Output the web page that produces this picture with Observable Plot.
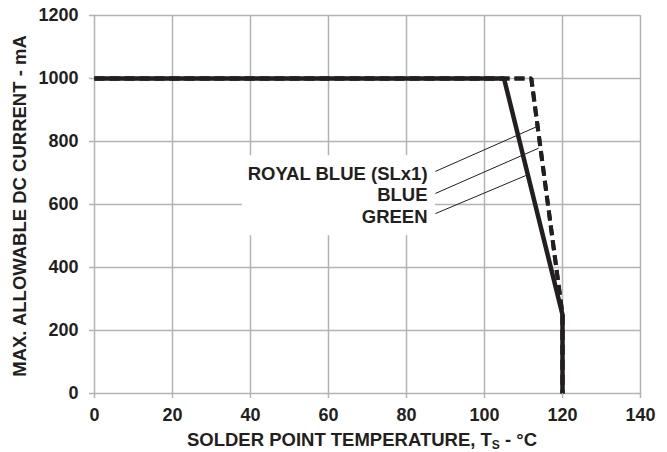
<!DOCTYPE html>
<html>
<head>
<meta charset="utf-8">
<script src="https://cdn.jsdelivr.net/npm/d3@7"></script>
<script src="https://cdn.jsdelivr.net/npm/@observablehq/plot@0.6"></script>
<style>
  html, body { margin: 0; padding: 0; background: #fff; }
</style>
</head>
<body>
<div id="chart"></div>
<script>
// Derating curves: max. allowable DC current vs. solder point temperature
const royalBlueTemp = [0, 112, 120, 120];
const royalBlueCurrent = [1000, 1000, 250, 0];
const blueTemp = [0, 112, 120, 120];
const blueCurrent = [1000, 1000, 250, 0];
const greenTemp = [0, 105, 120, 120];
const greenCurrent = [1000, 1000, 250, 0];

const xTicks = [0, 20, 40, 60, 80, 100, 120, 140];
const yTicks = [0, 200, 400, 600, 800, 1000, 1200];

// Callout labels, in data units (°C, mA)
const seriesNames = ["ROYAL BLUE (SLx1)", "BLUE", "GREEN"];
const labelTemp = [85.4, 85.4, 85.4];
const labelCurrent = [698, 629, 559];
const leaderFromTemp = [87.4, 87.4, 87.4];
const leaderFromCurrent = [705, 635, 571];
const leaderToTemp = [113.2, 113.9, 110.6];
const leaderToCurrent = [846, 779, 692];
// white backdrop behind the callout text
const backdrop = [{t1: 37.9, t2: 87.4, c1: 501, c2: 755}];

const textColor = "#231f20";
const gridColor = "#b3b3b3";
const lineColor = "#231f20";

const toRows = (ts, cs) => ts.map((t, i) => ({t, c: cs[i]}));
const callouts = seriesNames.map((name, i) => ({
  name,
  lt: labelTemp[i], lc: labelCurrent[i],
  ft: leaderFromTemp[i], fc: leaderFromCurrent[i],
  tt: leaderToTemp[i], tc: leaderToCurrent[i]
}));

const lineStyle = {x: "t", y: "c", stroke: lineColor, strokeLinecap: "butt", strokeLinejoin: "miter", curve: "linear"};

const chart = Plot.plot({
  width: 667,
  height: 452,
  marginLeft: 94,
  marginRight: 27,
  marginTop: 15,
  marginBottom: 59,
  style: {
    fontFamily: "'Liberation Sans', Arial, sans-serif",
    fontWeight: "bold",
    fontSize: "18px",
    color: textColor,
    background: "#fff"
  },
  x: {domain: [0, 140]},
  y: {domain: [0, 1200]},
  marks: [
    Plot.ruleX(xTicks, {stroke: gridColor, strokeWidth: 1.5}),
    Plot.ruleY(yTicks, {stroke: gridColor, strokeWidth: 1.5}),
    Plot.rect(backdrop, {x1: "t1", x2: "t2", y1: "c1", y2: "c2", fill: "#fff"}),
    Plot.link(callouts, {x1: "ft", y1: "fc", x2: "tt", y2: "tc", stroke: textColor, strokeWidth: 1}),
    Plot.text(callouts, {x: "lt", y: "lc", text: "name", textAnchor: "end", fontSize: 18.5, fontWeight: "bold", fill: textColor}),
    Plot.line(toRows(royalBlueTemp, royalBlueCurrent), {...lineStyle, strokeWidth: 4, strokeDasharray: "10,5"}),
    Plot.line(toRows(blueTemp, blueCurrent), {...lineStyle, strokeWidth: 4, strokeDasharray: "10,5"}),
    Plot.line(toRows(greenTemp, greenCurrent), {...lineStyle, strokeWidth: 4.5}),
    Plot.axisX(xTicks, {tickSize: 5, tickPadding: 10, stroke: gridColor, strokeWidth: 1.5, fill: textColor, label: null, tickFormat: d => String(d)}),
    Plot.axisY(yTicks, {tickSize: 5, tickPadding: 11, stroke: gridColor, strokeWidth: 1.5, fill: textColor, label: null, tickFormat: d => String(d)})
  ]
});

document.getElementById("chart").appendChild(chart);

// Axis titles (the x title carries a subscript)
const svg = d3.select(chart);
svg.append("text")
  .attr("transform", "translate(26,206) rotate(-90)")
  .attr("text-anchor", "middle")
  .attr("fill", textColor)
  .attr("font-size", 18.5)
  .attr("font-weight", "bold")
  .text("MAX. ALLOWABLE DC CURRENT - mA");

const xt = svg.append("text")
  .attr("x", 362)
  .attr("y", 446)
  .attr("text-anchor", "middle")
  .attr("fill", textColor)
  .attr("font-size", 18.5)
  .attr("font-weight", "bold");
xt.append("tspan").text("SOLDER POINT TEMPERATURE, T");
xt.append("tspan").attr("font-size", 12).attr("dy", 3).text("S");
xt.append("tspan").attr("dy", -3).text(" - °C");
</script>
</body>
</html>
